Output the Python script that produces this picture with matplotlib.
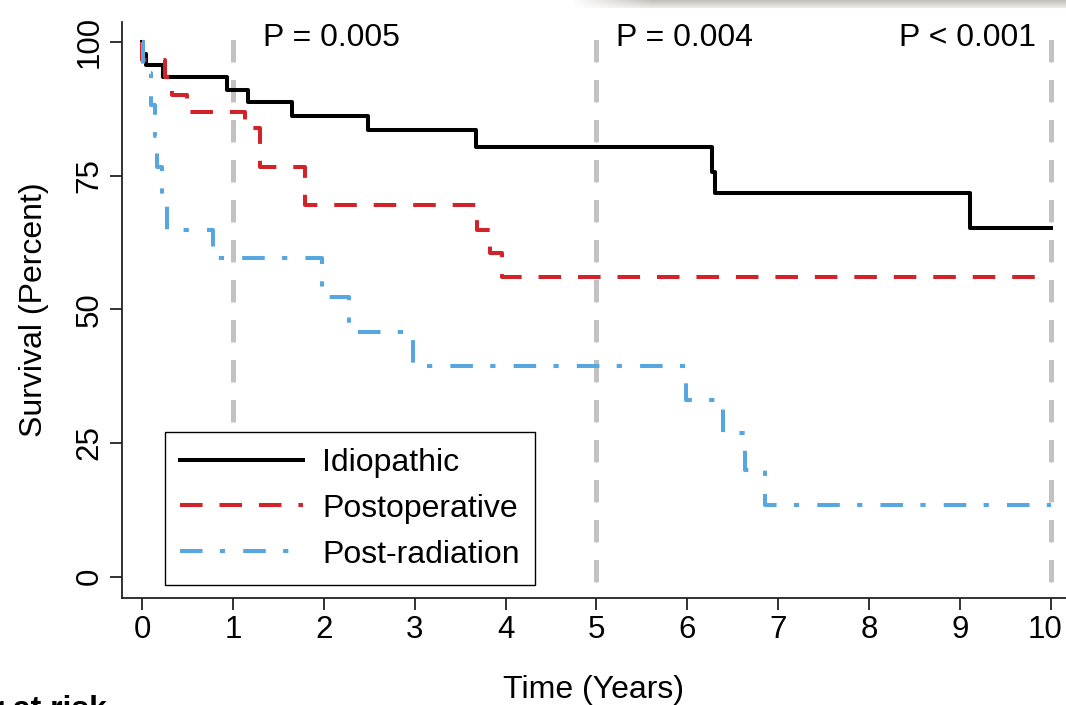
import numpy as np
import matplotlib
matplotlib.use('Agg')
import matplotlib.pyplot as plt
from matplotlib.transforms import ScaledTranslation

plt.rcParams['font.family'] = ['Liberation Sans', 'DejaVu Sans']

# Kaplan-Meier: tiempo (años) y supervivencia (%)
t_idio = [0, 0.01, 0.05, 0.23, 0.935, 1.17, 1.65, 2.49, 3.67, 6.27, 6.30, 9.11, 10.0]
s_idio = [100, 97.8, 95.6, 93.4, 91.0, 88.7, 86.1, 83.5, 80.3, 75.6, 71.7, 65.2, 65.2]

t_post = [0, 0.005, 0.25, 0.33, 0.495, 1.13, 1.30, 1.79, 3.685, 3.83, 3.96, 10.0]
s_post = [100, 96.6, 93.4, 90.0, 86.9, 83.9, 76.6, 69.5, 64.8, 60.5, 56.0, 56.0]

t_rad = [0, 0.01, 0.10, 0.14, 0.165, 0.22, 0.275, 0.78, 1.98, 2.28, 2.98,
         5.98, 6.39, 6.63, 6.85, 10.0]
s_rad = [100, 94.1, 88.2, 82.4, 76.5, 70.6, 64.8, 59.6, 52.3, 45.7, 39.3,
         33.0, 26.9, 20.0, 13.4, 13.4]

grupos = ['Idiopathic', 'Postoperative', 'Post-radiation']
cortes = [1, 5, 10]
p_textos = ['P = 0.005', 'P = 0.004', 'P < 0.001']

fig = plt.figure(figsize=(10.66, 7.05), dpi=100)
ax = fig.add_axes([0.1144, 0.1518, 0.8856, 0.8170])

# lineas verticales grises en 1, 5 y 10 años
for x in cortes:
    ax.plot([x, x], [-1.0, 102.2], color='#c2c2c2', lw=3.6,
            ls=(0, (4.5, 3.5)), zorder=1)

ax.plot(t_idio, s_idio, drawstyle='steps-post', color='black', lw=2.9,
        label=grupos[0], zorder=3)
ax.plot(t_post, s_post, drawstyle='steps-post', color='#d2232a', lw=2.9,
        ls=(0, (5.6, 4.2)), label=grupos[1], zorder=3)
ax.plot(t_rad, s_rad, drawstyle='steps-post', color='#58a6e0', lw=2.9,
        ls=(0, (5.6, 4.3, 1.3, 4.5)), label=grupos[2], zorder=3)

ax.text(1.33, 99.2, p_textos[0], fontsize=23, ha='left', va='baseline')
ax.text(5.21, 99.2, p_textos[1], fontsize=23, ha='left', va='baseline')
ax.text(9.83, 99.2, p_textos[2], fontsize=23, ha='right', va='baseline')

ax.set_xlim(-0.22, 10.165)
ax.set_ylim(-3.98, 103.7)
ax.set_xticks(range(0, 11))
ax.set_yticks([0, 25, 50, 75, 100])
ax.tick_params(direction='out', length=8.6, width=1.3, labelsize=22.5, pad=4,
               color='#222222')
plt.setp(ax.get_yticklabels(), rotation=90, va='center')

# el "10" un poco a la izquierda para que no se corte
ult = ax.get_xticklabels()[-1]
ult.set_transform(ult.get_transform() + ScaledTranslation(-4 / 72, 0, fig.dpi_scale_trans))

for lado in ['top', 'right']:
    ax.spines[lado].set_visible(False)
for lado in ['left', 'bottom']:
    ax.spines[lado].set_linewidth(1.3)
    ax.spines[lado].set_color('#222222')

ax.set_xlabel('Time (Years)', fontsize=23)
ax.xaxis.set_label_coords(0.5, -0.134)
ax.set_ylabel('Survival (Percent)', fontsize=23)
ax.yaxis.set_label_coords(-0.077, 0.5)

leg = ax.legend(loc='lower left', bbox_to_anchor=(0.0456, 0.0226),
                borderaxespad=0, fontsize=23, handlelength=3.85,
                handletextpad=0.6, labelspacing=0.5, borderpad=0.48,
                fancybox=False, edgecolor='black', framealpha=1)
leg.get_frame().set_linewidth(1.0)

# texto cortado abajo a la izquierda
fig.text(0.1004, -0.018, 'Number at risk', fontsize=23, fontweight='bold',
         ha='right', va='baseline')

# franja gris borrosa arriba a la derecha
banda = fig.add_axes([570 / 1066, 697 / 705, 496 / 1066, 8 / 705])
banda.axis('off')
cols = np.clip(np.linspace(0, 6, 200), 0, 1)
filas = np.linspace(1.0, 0.35, 8)[:, None]
alfa = filas * cols[None, :]
gris = np.array([0.77, 0.75, 0.73])
img = 1 - alfa[:, :, None] * (1 - gris[None, None, :])
banda.imshow(img, aspect='auto', interpolation='bilinear')

fig.savefig('out.png', dpi=100)
